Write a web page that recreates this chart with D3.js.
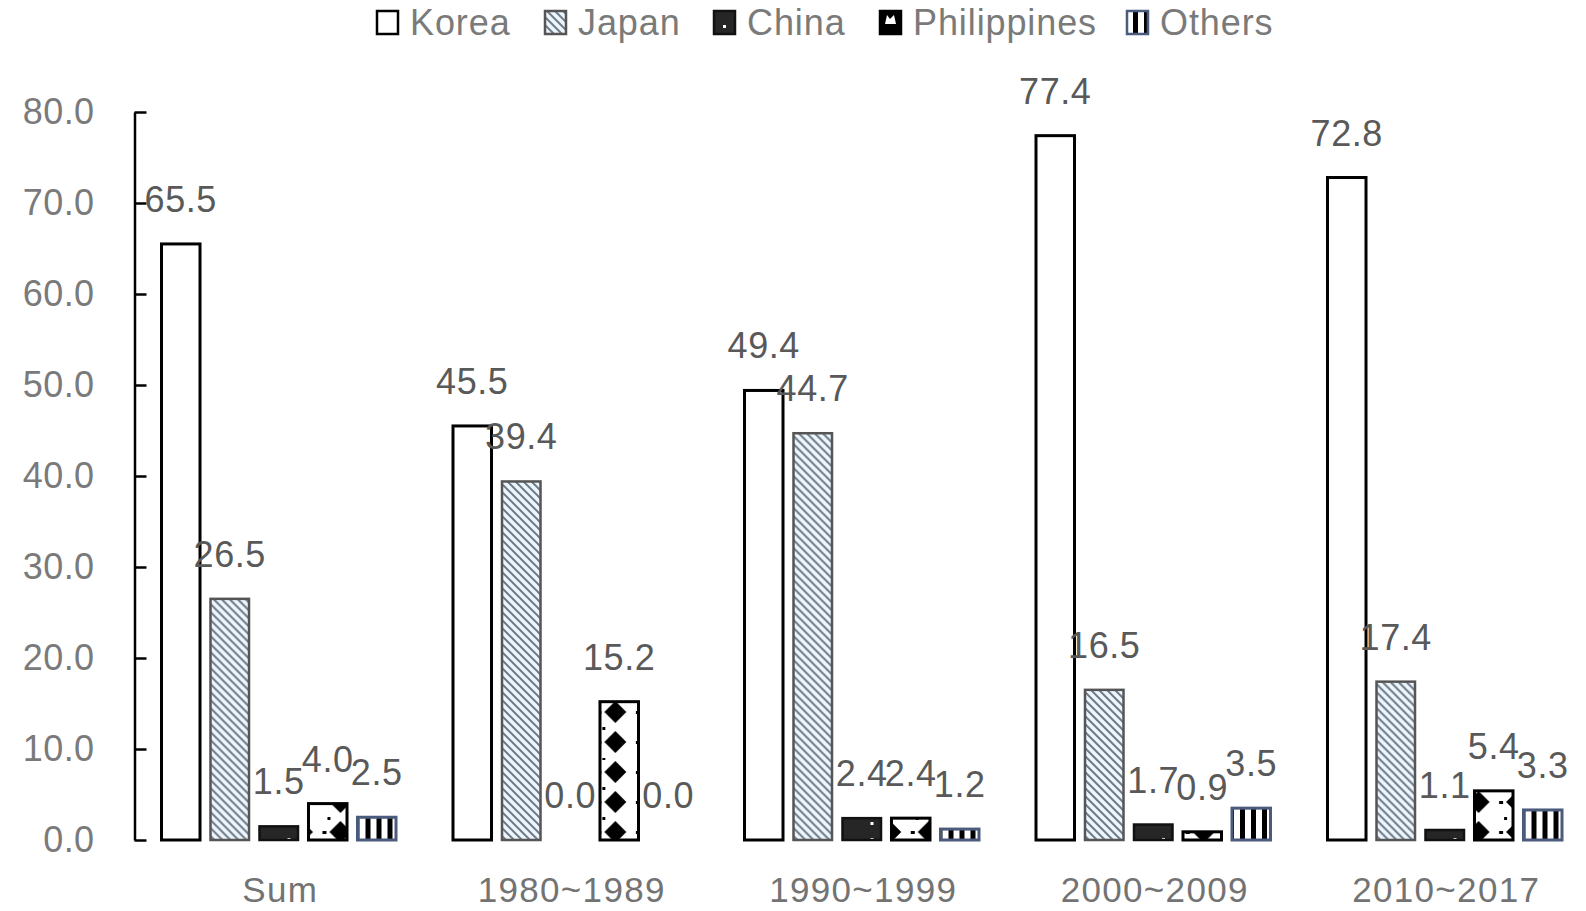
<!DOCTYPE html>
<html><head><meta charset="utf-8">
<script src="https://cdn.jsdelivr.net/npm/d3@7"></script>
<style>
html,body{margin:0;padding:0;background:#fff;}
svg{display:block;font-family:"Liberation Sans",Arial,sans-serif;}
</style></head>
<body>
<svg id="chart" width="1586" height="911"></svg>
<script>
const categories = ["Sum","1980~1989","1990~1999","2000~2009","2010~2017"];
const seriesNames = ["Korea","Japan","China","Philippines","Others"];
const korea = [65.5,45.5,49.4,77.4,72.8];
const japan = [26.5,39.4,44.7,16.5,17.4];
const china = [1.5,0.0,2.4,1.7,1.1];
const philippines = [4.0,15.2,2.4,0.9,5.4];
const others = [2.5,0.0,1.2,3.5,3.3];
const yTicks = [0,10,20,30,40,50,60,70,80];

const seriesValues = [korea,japan,china,philippines,others];
const svg = d3.select("#chart");
const defs = svg.append("defs");

// patterns
const pJ = defs.append("pattern").attr("id","pJapan").attr("patternUnits","userSpaceOnUse").attr("width",8).attr("height",8);
pJ.append("rect").attr("width",8).attr("height",8).attr("fill","#eef5fb");
pJ.append("path").attr("d","M0,0L8,8M-4,4L4,12M4,-4L12,4").attr("stroke","#6e7c8c").attr("stroke-width",2);

const pC = defs.append("pattern").attr("id","pChina").attr("patternUnits","userSpaceOnUse").attr("width",34).attr("height",16);
pC.append("rect").attr("width",34).attr("height",16).attr("fill","#262626");
pC.append("rect").attr("x",17).attr("y",6).attr("width",3).attr("height",3).attr("fill","#fff");

const pO = defs.append("pattern").attr("id","pOthers").attr("patternUnits","userSpaceOnUse").attr("width",11).attr("height",10);
pO.append("rect").attr("width",11).attr("height",10).attr("fill","#fff");
pO.append("rect").attr("x",0).attr("width",5).attr("height",10).attr("fill","#000");

const axisX = 134.5;
const y = d3.scaleLinear().domain([0,80]).range([840,112]);
const x0 = d3.scaleBand().domain(categories).range([axisX, axisX + 5*291.5]);
const x1 = d3.scaleBand().domain(seriesNames).range([27,261.5]).paddingInner(0.214);

// Philippines patterns per bar, anchored at bar
categories.forEach((c,i)=>{
  const bx = x0(c)+x1("Philippines");
  const bw = x1.bandwidth();
  const p = defs.append("pattern").attr("id","pPhil"+i).attr("patternUnits","userSpaceOnUse")
    .attr("x",bx).attr("y",y(0)+7).attr("width",bw).attr("height",30);
  p.append("rect").attr("width",bw).attr("height",30).attr("fill","#fff");
  p.append("path").attr("d","M13,4L24,15L13,26L2,15Z").attr("fill","#000");
  p.append("rect").attr("x",bw-5).attr("y",14).attr("width",4).attr("height",3).attr("fill","#000");
  p.append("rect").attr("x",0).attr("y",0).attr("width",3).attr("height",3).attr("fill","#000");
});

const styles = {
  Korea:{fill:()=>"#fff",stroke:"#000",sw:3},
  Japan:{fill:()=>"url(#pJapan)",stroke:"#555",sw:2.5},
  China:{fill:()=>"url(#pChina)",stroke:"#111",sw:2.5},
  Philippines:{fill:i=>"url(#pPhil"+i+")",stroke:"#000",sw:3},
  Others:{fill:()=>"url(#pOthers)",stroke:"#4a5b7c",sw:3}
};

// axis
const axis = d3.axisLeft(y).tickValues(yTicks).tickFormat(d3.format(".1f")).tickSizeInner(-12).tickSizeOuter(0).tickPadding(40);
const ag = svg.append("g").attr("transform",`translate(${axisX},0)`).call(axis);
ag.select(".domain").attr("stroke","#000").attr("stroke-width",2.5);
ag.selectAll(".tick line").attr("stroke","#000").attr("stroke-width",2.5);
ag.selectAll(".tick text").attr("fill","#7a7a7a").style("font-size","36px").style("letter-spacing","0.4px")
  .style("font-family","'Liberation Sans',Arial,sans-serif");

// bars
const groups = svg.append("g").selectAll("g").data(categories).join("g")
  .attr("transform",c=>`translate(${x0(c)},0)`);
seriesNames.forEach((s,si)=>{
  const st = styles[s];
  groups.append("rect")
    .attr("x",x1(s)).attr("width",x1.bandwidth())
    .attr("y",(c,i)=>y(seriesValues[si][i]))
    .attr("height",(c,i)=>y(0)-y(seriesValues[si][i]))
    .attr("fill",(c,i)=>st.fill(i)).attr("stroke",st.stroke).attr("stroke-width",st.sw);
});
seriesNames.forEach((s,si)=>{
  groups.append("text")
    .attr("x",x1(s)+x1.bandwidth()/2)
    .attr("y",(c,i)=>y(seriesValues[si][i])-32)
    .attr("text-anchor","middle").attr("fill","#595959").style("font-size","36px").style("letter-spacing","0.6px")
    .text((c,i)=>seriesValues[si][i].toFixed(1));
});

// category labels
svg.append("g").selectAll("text").data(categories).join("text")
  .attr("x",c=>x0(c)+x0.bandwidth()/2).attr("y",902)
  .attr("text-anchor","middle").attr("fill","#737373").style("font-size","35px").style("letter-spacing","1.3px").text(c=>c);

// legend (layout positions of each entry)
const legendX = [377, 545, 714, 880, 1127];
const lg = svg.append("g");
seriesNames.forEach((s,si)=>{
  const st = styles[s];
  const lx = legendX[si];
  lg.append("rect").attr("x",lx).attr("y",11).attr("width",21).attr("height",23)
    .attr("fill", s==="Philippines" ? "#000" : (s==="China" ? "#262626" : st.fill(1)))
    .attr("stroke",st.stroke).attr("stroke-width",2.5);
  if (s==="Philippines") {
    lg.append("path").attr("d",`M${lx+5},24L${lx+7},15L${lx+10},19L${lx+14},15L${lx+16},24Z`).attr("fill","#fff");
  }
  if (s==="China") {
    lg.append("rect").attr("x",lx+9).attr("y",25).attr("width",3).attr("height",3).attr("fill","#fff");
  }
  lg.append("text").attr("x",lx+33).attr("y",35).attr("fill","#7a7a7a").style("font-size","36px")
    .style("letter-spacing","0.9px").text(s);
});
</script>
</body></html>
